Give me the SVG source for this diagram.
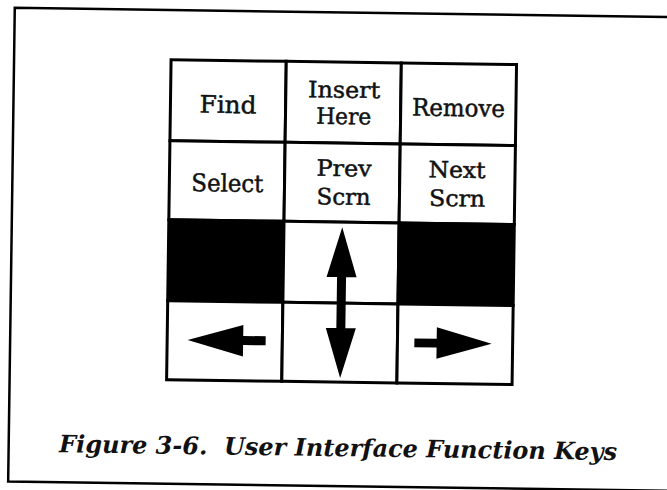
<svg xmlns="http://www.w3.org/2000/svg" width="667" height="490" viewBox="0 0 667 490">
  <style>
    .cell { stroke: #000; stroke-width: 3; }
    .w { fill: #fff; }
    .b { fill: #000; }
    .lbl { font-family: "DejaVu Serif", "Liberation Serif", serif; font-size: 24px; fill: #111; stroke: #111; stroke-width: 0.5; text-anchor: middle; }
    .two { font-size: 22.5px; }
    .cap { font-family: "DejaVu Serif", "Liberation Serif", serif; font-size: 24px; font-weight: bold; font-style: italic; fill: #111; }
    .arrow { fill: #000; }
  </style>
  <rect width="667" height="490" fill="#fff"/>
  <g transform="rotate(0.8 333 245)">
    <g id="frame">
      <path d="M 700 12.3 L 11.5 12.3 L 11.5 486 L 700 486" fill="none" stroke="#000" stroke-width="2.5"/>
    </g>
    <g id="key-find">
      <rect class="cell w" x="168.5" y="62" width="115.2" height="81"/>
      <text class="lbl" x="226.1" y="114.5" textLength="57" lengthAdjust="spacingAndGlyphs">Find</text>
    </g>
    <g id="key-insert-here">
      <rect class="cell w" x="283.7" y="62" width="115.1" height="81"/>
      <text class="lbl two" x="342" y="97.5" textLength="72" lengthAdjust="spacingAndGlyphs">Insert</text>
      <text class="lbl two" x="342" y="124" textLength="55" lengthAdjust="spacingAndGlyphs">Here</text>
    </g>
    <g id="key-remove">
      <rect class="cell w" x="398.8" y="62" width="115.2" height="81"/>
      <text class="lbl" x="456.6" y="114.5" textLength="93" lengthAdjust="spacingAndGlyphs">Remove</text>
    </g>
    <g id="key-select">
      <rect class="cell w" x="168.5" y="143" width="115.2" height="79"/>
      <text class="lbl" x="226.5" y="193" textLength="72" lengthAdjust="spacingAndGlyphs">Select</text>
    </g>
    <g id="key-prev-scrn">
      <rect class="cell w" x="283.7" y="143" width="115.1" height="79"/>
      <text class="lbl two" x="343" y="176" textLength="55" lengthAdjust="spacingAndGlyphs">Prev</text>
      <text class="lbl two" x="343" y="204.5" textLength="54" lengthAdjust="spacingAndGlyphs">Scrn</text>
    </g>
    <g id="key-next-scrn">
      <rect class="cell w" x="398.8" y="143" width="115.2" height="79"/>
      <text class="lbl two" x="456" y="176" textLength="57" lengthAdjust="spacingAndGlyphs">Next</text>
      <text class="lbl two" x="456.5" y="204.5" textLength="56" lengthAdjust="spacingAndGlyphs">Scrn</text>
    </g>
    <g id="key-blank-left">
      <rect class="cell b" x="168.5" y="222" width="115.2" height="81"/>
    </g>
    <g id="key-up">
      <rect class="cell w" x="283.7" y="222" width="115.1" height="81"/>
    </g>
    <g id="key-blank-right">
      <rect class="cell b" x="398.8" y="222" width="115.2" height="81"/>
    </g>
    <g id="key-left">
      <rect class="cell w" x="168.5" y="303" width="115.2" height="79"/>
      <polygon class="arrow" points="189,342 244.5,326.3 244.5,337.2 267,337.2 267,346.3 244.5,346.3 244.5,357.7"/>
    </g>
    <g id="key-down">
      <rect class="cell w" x="283.7" y="303" width="115.1" height="79"/>
    </g>
    <g id="key-right">
      <rect class="cell w" x="398.8" y="303" width="115.2" height="79"/>
      <polygon class="arrow" points="493,341.6 438,325.8 438,337.3 415.7,337.3 415.7,346 438,346 438,357.4"/>
    </g>
    <g id="updown-arrow">
      <polygon class="arrow" points="342,227 357,277 346.5,277 346.5,328 357,328 342,378 327,328 337.5,328 337.5,277 327,277"/>
    </g>
    <g id="connectors"></g>
    <g id="caption">
      <text class="cap" x="62" y="456" textLength="558" lengthAdjust="spacingAndGlyphs">Figure 3-6.&#160; User Interface Function Keys</text>
    </g>
  </g>
</svg>
